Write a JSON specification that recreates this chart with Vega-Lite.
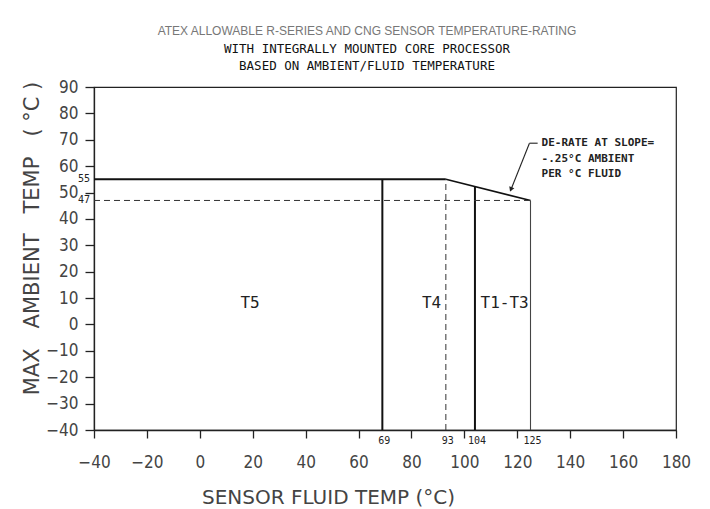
{
  "$schema": "https://vega.github.io/schema/vega-lite/v6.json",
  "width": 582,
  "height": 343,
  "autosize": {"type": "none"},
  "padding": {"left": 94, "top": 87, "right": 34, "bottom": 79},
  "background": "white",
  "config": {
    "view": {"stroke": "#222", "strokeWidth": 1.2},
    "font": "DejaVu Sans"
  },
  "title": {
    "text": "ATEX ALLOWABLE R-SERIES AND CNG SENSOR TEMPERATURE-RATING",
    "subtitle": ["WITH INTEGRALLY MOUNTED CORE PROCESSOR", "BASED ON AMBIENT/FLUID TEMPERATURE"],
    "anchor": "middle",
    "frame": "group",
    "dx": -18,
    "font": "Liberation Sans",
    "fontSize": 12,
    "fontWeight": "normal",
    "color": "#777",
    "subtitleFont": "DejaVu Sans Mono",
    "subtitleFontSize": 12.5,
    "subtitleColor": "#111",
    "subtitleLineHeight": 17,
    "subtitlePadding": 5,
    "offset": 5
  },
  "datasets": {
    "segs": [
      {"x": -40, "y": 55, "x2": 93, "y2": 55, "kind": "main"},
      {"x": 69, "y": -40, "x2": 69, "y2": 55, "kind": "main"},
      {"x": 104, "y": -40, "x2": 104, "y2": 52.25, "kind": "main"},
      {"x": 93, "y": 55, "x2": 125, "y2": 47, "kind": "slope"},
      {"x": -40, "y": 47, "x2": 125, "y2": 47, "kind": "dash"},
      {"x": 93, "y": -40, "x2": 93, "y2": 55, "kind": "dash"},
      {"x": 125, "y": -40, "x2": 125, "y2": 47, "kind": "thin"},
      {"x": 127.7, "y": 68.7, "x2": 124.6, "y2": 68.7, "kind": "leader"},
      {"x": 124.6, "y": 68.7, "x2": 117.4, "y2": 50.6, "kind": "leader"}
    ],
    "zones": [
      {"x": 19, "y": 8, "label": "T5"},
      {"x": 87.6, "y": 8, "label": "T4"},
      {"x": 115.2, "y": 8, "label": "T1-T3"}
    ],
    "ymarks": [
      {"x": -40, "y": 55, "label": "55"},
      {"x": -40, "y": 47, "label": "47"}
    ],
    "xmarks": [
      {"x": 69, "y": -40, "label": "69"},
      {"x": 93, "y": -40, "label": "93"},
      {"x": 104, "y": -40, "label": "104"},
      {"x": 125, "y": -40, "label": "125"}
    ],
    "note": [
      {"x": 129.2, "y": 68.7, "label": "DE-RATE AT SLOPE="},
      {"x": 129.2, "y": 62.7, "label": "-.25°C AMBIENT"},
      {"x": 129.2, "y": 57, "label": "PER °C FLUID"}
    ],
    "arrow": [
      {"x": 117.6, "y": 51.2}
    ]
  },
  "encoding": {
    "x": {
      "field": "x",
      "type": "quantitative",
      "scale": {"domain": [-40, 180], "nice": false, "zero": false},
      "axis": {
        "values": [-40, -20, 0, 20, 40, 60, 80, 100, 120, 140, 160, 180],
        "grid": false,
        "tickSize": 8,
        "tickColor": "#222",
        "tickWidth": 1.3,
        "domainColor": "#222",
        "domainWidth": 1.3,
        "labelFont": "DejaVu Sans Condensed, DejaVu Sans",
        "labelFontSize": 17,
        "labelColor": "#444",
        "labelBaseline": "middle",
        "labelPadding": 24,
        "labelOverlap": false,
        "labelFlush": false,
        "title": "SENSOR FLUID TEMP (°C)",
        "titleFont": "DejaVu Sans",
        "titleFontSize": 20,
        "titleFontWeight": "normal",
        "titleColor": "#444",
        "titleX": 234,
        "titleY": 67,
        "titleAlign": "center",
        "titleBaseline": "middle"
      }
    },
    "y": {
      "field": "y",
      "type": "quantitative",
      "scale": {"domain": [-40, 90], "nice": false, "zero": false},
      "axis": {
        "values": [-40, -30, -20, -10, 0, 10, 20, 30, 40, 50, 60, 70, 80, 90],
        "grid": false,
        "tickSize": 9,
        "tickColor": "#222",
        "tickWidth": 1.3,
        "domainColor": "#222",
        "domainWidth": 1.3,
        "labelFont": "DejaVu Sans Condensed, DejaVu Sans",
        "labelFontSize": 17,
        "labelColor": "#444",
        "labelPadding": 7,
        "labelOverlap": false,
        "labelFlush": false,
        "title": "MAX\u00a0\u00a0\u00a0AMBIENT\u00a0\u00a0\u00a0TEMP\u00a0\u00a0\u00a0(\u00a0°C\u00a0)",
        "titleFont": "DejaVu Sans",
        "titleFontSize": 21,
        "titleFontWeight": "normal",
        "titleColor": "#444",
        "titleX": -62,
        "titleY": 151,
        "titleAngle": -90,
        "titleAlign": "center",
        "titleBaseline": "middle"
      }
    }
  },
  "layer": [
    {
      "data": {"name": "segs"},
      "transform": [{"filter": "datum.kind === 'main'"}],
      "mark": {"type": "rule", "color": "#111", "strokeWidth": 2},
      "encoding": {"x2": {"field": "x2"}, "y2": {"field": "y2"}}
    },
    {
      "data": {"name": "segs"},
      "transform": [{"filter": "datum.kind === 'slope'"}],
      "mark": {"type": "rule", "color": "#111", "strokeWidth": 1.6},
      "encoding": {"x2": {"field": "x2"}, "y2": {"field": "y2"}}
    },
    {
      "data": {"name": "segs"},
      "transform": [{"filter": "datum.kind === 'dash'"}],
      "mark": {"type": "rule", "color": "#333", "strokeWidth": 1, "strokeDash": [6, 4]},
      "encoding": {"x2": {"field": "x2"}, "y2": {"field": "y2"}}
    },
    {
      "data": {"name": "segs"},
      "transform": [{"filter": "datum.kind === 'thin'"}],
      "mark": {"type": "rule", "color": "#444", "strokeWidth": 1.1},
      "encoding": {"x2": {"field": "x2"}, "y2": {"field": "y2"}}
    },
    {
      "data": {"name": "segs"},
      "transform": [{"filter": "datum.kind === 'leader'"}],
      "mark": {"type": "rule", "color": "#222", "strokeWidth": 1.1},
      "encoding": {"x2": {"field": "x2"}, "y2": {"field": "y2"}}
    },
    {
      "data": {"name": "arrow"},
      "mark": {"type": "point", "shape": "triangle-up", "angle": 202, "filled": true, "size": 30, "color": "#222", "opacity": 1}
    },
    {
      "data": {"name": "zones"},
      "mark": {"type": "text", "font": "DejaVu Sans Mono", "fontSize": 16, "color": "#222", "align": "center", "baseline": "middle"},
      "encoding": {"text": {"field": "label"}}
    },
    {
      "data": {"name": "ymarks"},
      "mark": {"type": "text", "font": "DejaVu Sans Mono", "fontSize": 10, "color": "#222", "align": "right", "baseline": "middle", "dx": -4},
      "encoding": {"text": {"field": "label"}}
    },
    {
      "data": {"name": "xmarks"},
      "mark": {"type": "text", "font": "DejaVu Sans Mono", "fontSize": 10, "color": "#222", "align": "center", "baseline": "middle", "dx": 2, "dy": 11},
      "encoding": {"text": {"field": "label"}}
    },
    {
      "data": {"name": "note"},
      "mark": {"type": "text", "font": "DejaVu Sans Mono", "fontSize": 11, "fontWeight": "bold", "color": "#222", "align": "left", "baseline": "middle"},
      "encoding": {"text": {"field": "label"}}
    }
  ]
}
